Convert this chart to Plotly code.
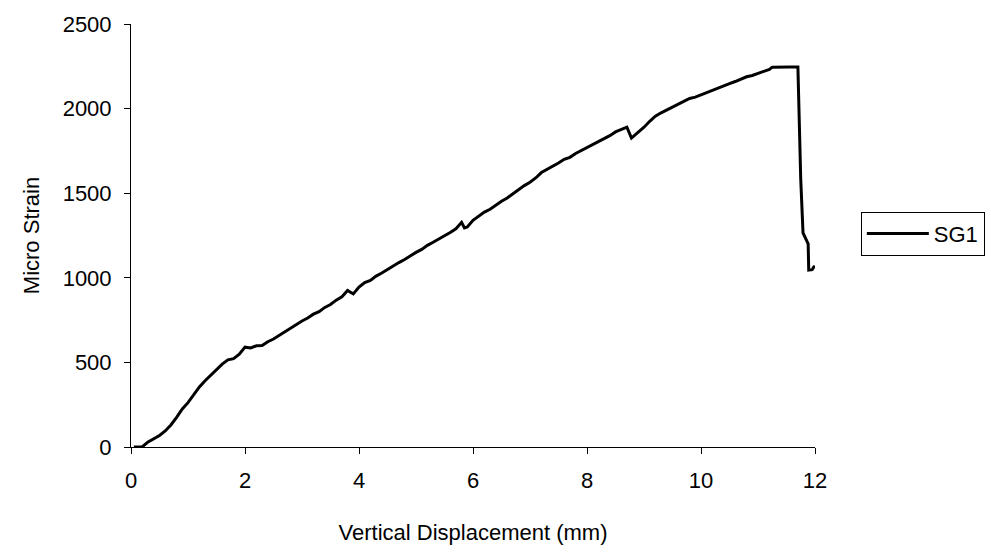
import plotly.graph_objects as go

# Vertical displacement (mm) and micro strain readings for SG1
displacement = [
    0.05, 0.20, 0.30, 0.40, 0.50, 0.60, 0.70, 0.80, 0.90, 1.00,
    1.10, 1.20, 1.30, 1.40, 1.50, 1.60, 1.70, 1.80, 1.90, 2.00,
    2.10, 2.20, 2.30, 2.40, 2.50, 2.60, 2.70, 2.80, 2.90, 3.00,
    3.10, 3.20, 3.30, 3.40, 3.50, 3.60, 3.70, 3.80, 3.85, 3.90,
    4.00, 4.10, 4.20, 4.30, 4.40, 4.50, 4.60, 4.70, 4.80, 4.90,
    5.00, 5.10, 5.20, 5.30, 5.40, 5.50, 5.60, 5.70, 5.80, 5.85,
    5.90, 6.00, 6.10, 6.20, 6.30, 6.40, 6.50, 6.60, 6.70, 6.80,
    6.90, 7.00, 7.10, 7.20, 7.30, 7.40, 7.50, 7.60, 7.70, 7.80,
    7.90, 8.00, 8.10, 8.20, 8.30, 8.40, 8.50, 8.60, 8.70, 8.78,
    8.90, 9.00, 9.10, 9.20, 9.30, 9.40, 9.50, 9.60, 9.70, 9.80,
    9.90, 10.00, 10.10, 10.20, 10.30, 10.40, 10.50, 10.60, 10.70, 10.80,
    10.90, 11.00, 11.10, 11.20, 11.25, 11.40, 11.55, 11.70, 11.72, 11.75,
    11.79, 11.82, 11.88, 11.89, 11.95, 11.98, 12.02,
]
micro_strain = [
    0, 2, 30, 50, 68, 95, 130, 175, 225, 262,
    310, 355, 392, 425, 455, 490, 515, 522, 548, 590,
    585, 598, 600, 622, 638, 660, 682, 705, 722, 745,
    762, 785, 800, 825, 842, 868, 888, 925, 915, 905,
    945, 972, 985, 1010, 1028, 1050, 1070, 1090, 1108, 1130,
    1150, 1168, 1192, 1210, 1228, 1248, 1268, 1290, 1328, 1295,
    1300, 1340, 1365, 1388, 1405, 1430, 1452, 1472, 1498, 1520,
    1545, 1565, 1590, 1622, 1640, 1660, 1678, 1700, 1712, 1735,
    1752, 1770, 1790, 1805, 1822, 1840, 1862, 1875, 1890, 1826,
    1860, 1890, 1925, 1955, 1975, 1992, 2012, 2030, 2045, 2060,
    2068, 2082, 2095, 2108, 2120, 2135, 2148, 2160, 2175, 2188,
    2196, 2208, 2220, 2232, 2245, 2247, 2246, 2246, 1950, 1580,
    1265, 1241, 1200, 1046, 1048, 1065, 1064,
]

x_ticks = [0, 2, 4, 6, 8, 10, 12]
y_ticks = [0, 500, 1000, 1500, 2000, 2500]

FONT = "Liberation Sans, Arial, sans-serif"
FS = 22

fig = go.Figure()
fig.add_trace(go.Scatter(
    x=displacement, y=micro_strain, mode="lines", name="SG1",
    line=dict(color="black", width=3),
))

fig.update_layout(
    width=991, height=554,
    margin=dict(l=131, r=176, t=24, b=107, autoexpand=False),
    paper_bgcolor="white", plot_bgcolor="white",
    font=dict(family=FONT, size=FS, color="black"),
    showlegend=True,
    legend=dict(
        x=1.067, y=0.556, xanchor="left", yanchor="top",
        bordercolor="black", borderwidth=1, bgcolor="white",
        itemwidth=62,
        font=dict(family=FONT, size=FS, color="black"),
    ),
)
fig.update_xaxes(
    range=[0, 12], tickvals=x_ticks, ticktext=[str(v) for v in x_ticks],
    showline=True, linecolor="black", linewidth=1,
    ticks="outside", ticklen=6, tickcolor="black",
    ticklabelstandoff=8,
    showgrid=False, zeroline=False,
    title=dict(text="Vertical Displacement (mm)", font=dict(size=FS), standoff=32),
)
fig.update_yaxes(
    range=[0, 2500], tickvals=y_ticks, ticktext=[str(v) for v in y_ticks],
    showline=True, linecolor="black", linewidth=1,
    ticks="outside", ticklen=6, tickcolor="black",
    ticklabelstandoff=8,
    showgrid=False, zeroline=False,
    title=dict(text="Micro Strain", font=dict(size=FS), standoff=16),
)

fig.write_html("out.html")
